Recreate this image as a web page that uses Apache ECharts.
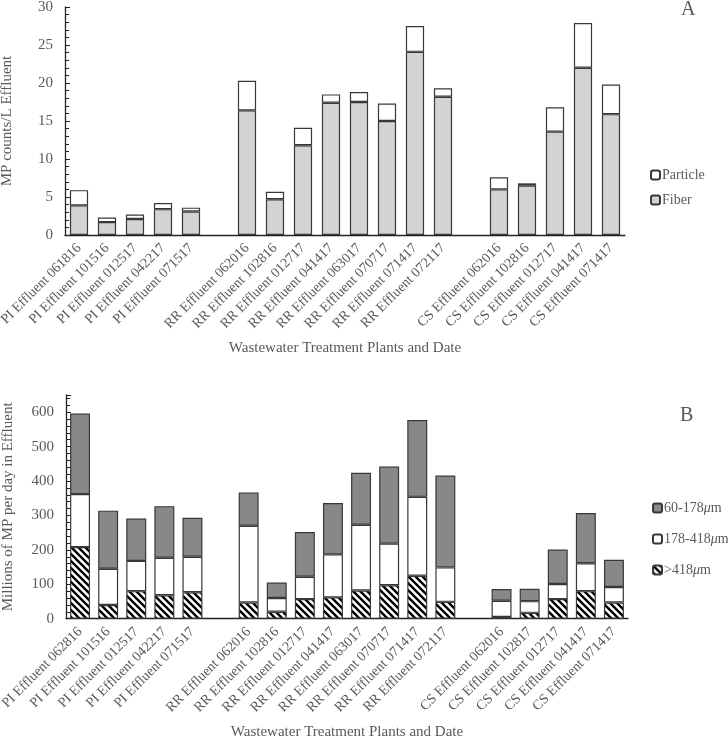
<!DOCTYPE html>
<html><head><meta charset="utf-8">
<script src="https://cdn.jsdelivr.net/npm/echarts@6/dist/echarts.min.js"></script>
<style>html,body{margin:0;padding:0;background:#fff}#c{width:728px;height:741px}</style>
</head><body><div id="c"></div>
<script>
// ---- Panel A data ----
const catsA = ['PI Effluent 061816','PI Effluent 101516','PI Effluent 012517','PI Effluent 042217','PI Effluent 071517','',
  'RR Effluent 062016','RR Effluent 102816','RR Effluent 012717','RR Effluent 041417','RR Effluent 063017','RR Effluent 070717','RR Effluent 071417','RR Effluent 072117','',
  'CS Effluent 062016','CS Effluent 102816','CS Effluent 012717','CS Effluent 041417','CS Effluent 071417'];
const fiber    = [3.9, 1.7, 2.1, 3.4, 3.1, null, 16.4, 4.7, 11.8, 17.4, 17.5, 15.0, 24.1, 18.2, null, 6.0, 6.5, 13.6, 22.0, 15.9];
const particle = [2.0, 0.6, 0.6, 0.8, 0.5, null, 3.9, 1.0, 2.3, 1.1, 1.3, 2.3, 3.4, 1.1, null, 1.6, 0.3, 3.2, 5.9, 3.9];

// ---- Panel B data ----
const catsB = ['PI Effluent 062816','PI Effluent 101516','PI Effluent 012517','PI Effluent 042217','PI Effluent 071517','',
  'RR Effluent 062016','RR Effluent 102816','RR Effluent 012717','RR Effluent 041417','RR Effluent 063017','RR Effluent 070717','RR Effluent 071417','RR Effluent 072117','',
  'CS Effluent 062016','CS Effluent 102817','CS Effluent 012717','CS Effluent 041417','CS Effluent 071417'];
const over418   = [208, 40, 80, 68, 77, null, 47, 20, 57, 62, 82, 97, 125, 49, null, 5, 17, 57, 80, 47];
const mid178418 = [154, 105, 88, 109, 103, null, 223, 40, 65, 125, 191, 121, 229, 100, null, 47, 34, 44, 81, 45];
const low60178  = [234, 169, 123, 150, 113, null, 97, 45, 130, 149, 151, 224, 223, 267, null, 34, 36, 100, 146, 79];

const yTicksA = {min: 0, max: 30, interval: 5};
const yTicksB = {min: 0, max: 650, interval: 100};

const FONT = 'Liberation Serif';
const TXT = '#595959';
const BORDER = '#383838';

function hatch(){
  const s = 7, c = document.createElement('canvas');
  c.width = c.height = s;
  const g = c.getContext('2d');
  g.fillStyle = '#fff'; g.fillRect(0,0,s,s);
  g.strokeStyle = '#000'; g.lineWidth = 2.4; g.lineCap = 'square';
  g.beginPath();
  for (const k of [-s, 0, s]) { g.moveTo(k-1, -1); g.lineTo(k+s+1, s+1); }
  g.stroke();
  return c;
}
const hatchColor = {image: hatch(), repeat: 'repeat'};

const chart = echarts.init(document.getElementById('c'), null, {renderer: 'canvas'});

function xAxis(idx, cats){
  return {
    type: 'category', gridIndex: idx, data: cats,
    axisLine: {lineStyle: {color: '#222', width: 1.3}},
    axisTick: {show: false},
    axisLabel: {rotate: 45, interval: 0, margin: 11, fontFamily: FONT, fontSize: 14, color: TXT},
    name: 'Wastewater Treatment Plants and Date', nameLocation: 'middle', nameGap: 106,
    nameTextStyle: {fontFamily: FONT, fontSize: 15, color: TXT}
  };
}
function yAxis(idx, t, name, extra){
  return Object.assign({
    type: 'value', gridIndex: idx, min: t.min, max: t.max, interval: t.interval,
    splitLine: {show: false},
    axisLine: {show: true, lineStyle: {color: '#222', width: 1.3}},
    axisTick: {show: true, inside: true, length: 5, lineStyle: {color: '#222'}},
    minorTick: {show: true, splitNumber: 5, length: 4, lineStyle: {color: '#222'}},
    axisLabel: {fontFamily: FONT, fontSize: 15, color: TXT, margin: 12},
    name: name, nameLocation: 'middle', nameGap: 50,
    nameTextStyle: {fontFamily: FONT, fontSize: 15, color: TXT}
  }, extra || {});
}

const legendText = {fontFamily: FONT, fontSize: 14, color: TXT, padding: [0, 0, 0, -3],
  rich: {a: {fontFamily: FONT, fontSize: 14, color: TXT}, i: {fontFamily: FONT, fontSize: 14, fontStyle: 'italic', color: TXT}}};

chart.setOption({
  animation: false,
  backgroundColor: '#fff',
  title: [
    {text: 'A', left: 676, top: -5, textStyle: {fontFamily: FONT, fontSize: 20, fontWeight: 'normal', color: TXT}},
    {text: 'B', left: 675, top: 401, textStyle: {fontFamily: FONT, fontSize: 20, fontWeight: 'normal', color: TXT}}
  ],
  grid: [
    {left: 65, right: 103, top: 7, height: 228, containLabel: false, outerBoundsMode: 'none'},
    {left: 66, right: 100, top: 395, height: 223.7, containLabel: false, outerBoundsMode: 'none'}
  ],
  legend: [
    {orient: 'vertical', left: 645, top: 163, itemWidth: 9, itemHeight: 9, itemGap: 11,
     data: ['Particle', 'Fiber'], textStyle: legendText},
    {orient: 'vertical', left: 647, top: 496, itemWidth: 9, itemHeight: 9, itemGap: 17,
     data: ['60-178', '178-418', '>418'], textStyle: legendText,
     formatter: n => '{a|' + n + '}{i|μ}{a|m}'}
  ],
  xAxis: [xAxis(0, catsA), xAxis(1, catsB)],
  yAxis: [
    yAxis(0, yTicksA, 'MP counts/L Effluent'),
    yAxis(1, yTicksB, 'Millions of MP per day in Effluent', {axisLabel: {fontFamily: FONT, fontSize: 15, color: TXT, margin: 12, showMaxLabel: false}})
  ],
  series: [
    {name: 'Fiber', type: 'bar', stack: 'a', xAxisIndex: 0, yAxisIndex: 0, barWidth: '65%', data: fiber,
     itemStyle: {color: '#d3d3d3', borderColor: BORDER, borderWidth: 1.2}},
    {name: 'Particle', type: 'bar', stack: 'a', xAxisIndex: 0, yAxisIndex: 0, barWidth: '65%', data: particle,
     itemStyle: {color: '#ffffff', borderColor: BORDER, borderWidth: 1.2}},
    {name: '>418', type: 'bar', stack: 'b', xAxisIndex: 1, yAxisIndex: 1, barWidth: '71%', data: over418,
     itemStyle: {color: hatchColor, borderColor: BORDER, borderWidth: 1.2}},
    {name: '178-418', type: 'bar', stack: 'b', xAxisIndex: 1, yAxisIndex: 1, barWidth: '71%', data: mid178418,
     itemStyle: {color: '#ffffff', borderColor: BORDER, borderWidth: 1.2}},
    {name: '60-178', type: 'bar', stack: 'b', xAxisIndex: 1, yAxisIndex: 1, barWidth: '71%', data: low60178,
     itemStyle: {color: '#888888', borderColor: BORDER, borderWidth: 1.2}}
  ]
});
</script>
</body></html>
